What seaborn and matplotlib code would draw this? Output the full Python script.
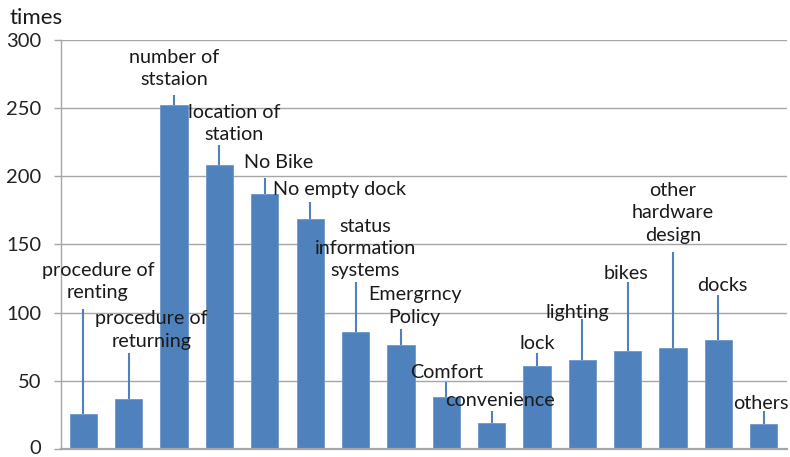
import matplotlib
matplotlib.use("Agg")
import matplotlib.pyplot as plt
import matplotlib.transforms as mtransforms
import seaborn as sns
import pandas as pd

# Survey results: how many times each issue was mentioned
categories = [
    "procedure of\nrenting", "procedure of\nreturning", "number of\nststaion",
    "location of\nstation", "No Bike", "No empty dock",
    "status\ninformation\nsystems", "Emergrncy\nPolicy", "Comfort",
    "convenience", "lock", "lighting", "bikes",
    "other\nhardware\ndesign", "docks", "others",
]
counts = [26, 37, 252, 208, 187, 169, 86, 76, 38, 19, 61, 65, 72, 74, 80, 18]
y_ticks = [0, 50, 100, 150, 200, 250, 300]

# label placement: (horizontal offset in bar slots, vertical centre in data units)
label_offsets = [
    (0.32, 122.8), (0.50, 87.2), (0.0, 279.0), (0.33, 239.0),
    (0.31, 210.2), (0.64, 190.6), (0.21, 147.1), (0.30, 104.8),
    (0.0, 55.9), (0.18, 35.9), (0.0, 77.5), (-0.10, 100.2),
    (-0.04, 128.8), (0.0, 173.2), (0.09, 119.7), (-0.07, 33.5),
]
# top end of each leader line, in data units
leader_tops = [102.6, 70.6, 260, 222.9, 198.7, 181, 122.7, 88,
               49.3, 27.9, 70.6, 95.3, 122.7, 144.7, 112.9, 27.9]

sns.set_theme(style="white")
plt.rcParams["font.family"] = ["Lato", "DejaVu Sans"]

df = pd.DataFrame({"issue": categories, "times": counts})

fig = plt.figure(figsize=(7.9, 4.57), dpi=100)
ax = fig.add_axes([60.7 / 790, 8 / 457, (786.5 - 60.7) / 790, (449 - 40) / 457])

bar_color = "#4F81BD"
sns.barplot(data=df, x="issue", y="times", color=bar_color, width=0.6,
            saturation=1, edgecolor="#6f97c9", linewidth=0.6, ax=ax, zorder=2)

ax.set_xlim(-0.5, len(categories) - 0.5)
ax.set_ylim(0, 300)
ax.set_yticks(y_ticks)
ax.set_yticklabels([str(t) for t in y_ticks], fontsize=14.5, color="#222222")
ax.set_xticks([])
ax.set_xlabel("")
ax.set_ylabel("")

grid_c = "#a6a6a6"
ax.yaxis.grid(True, color=grid_c, linewidth=1.0, zorder=0)
ax.set_axisbelow(True)
for side in ["top", "right"]:
    ax.spines[side].set_visible(False)
ax.spines["left"].set_color(grid_c)
ax.spines["left"].set_linewidth(1.0)
ax.spines["bottom"].set_color(grid_c)
ax.spines["bottom"].set_linewidth(1.6)
ax.tick_params(axis="y", length=5.4, width=1.0, color=grid_c, pad=8.5, left=True)

# keep the "0" label inside the canvas
zero_label = ax.get_yticklabels()[0]
zero_label.set_transform(zero_label.get_transform() +
                         mtransforms.ScaledTranslation(0, 2.5 / 100, fig.dpi_scale_trans))

# leader lines and category labels
for i, (name, val, top, (dx, ly)) in enumerate(
        zip(categories, counts, leader_tops, label_offsets)):
    ax.plot([i, i], [val, top], color=bar_color, linewidth=1.5, zorder=3,
            solid_capstyle="butt", clip_on=False)
    ax.text(i + dx, ly, name, ha="center", va="center", fontsize=14.2,
            color="#1a1a1a", linespacing=1.38, zorder=4, clip_on=False)

fig.text(10 / 790, 1 - 18 / 457, "times", ha="left", va="center",
         fontsize=16, color="#1a1a1a")

fig.savefig("out.png", dpi=100)
